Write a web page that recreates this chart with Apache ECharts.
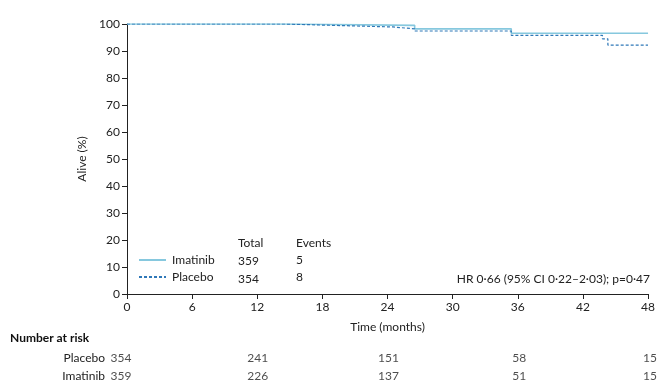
<!DOCTYPE html>
<html><head><meta charset="utf-8">
<script src="https://cdn.jsdelivr.net/npm/echarts@6/dist/echarts.min.js"></script>
<style>html,body{margin:0;padding:0;background:#fff}#c{width:658px;height:385px}</style>
</head><body><div id="c"></div>
<script>
const FONT = "Lato, 'Noto Sans', sans-serif";
const xTicks = [0, 6, 12, 18, 24, 30, 36, 42, 48];
const imatinibCurve = [[0,100],[14.5,99.5],[26.5,98.2],[35.4,96.6],[48,96.6]];
const placeboCurve = [[0,100],[14.5,99.5],[19,98.9],[24.5,98.2],[26.5,97.4],[35.4,95.8],[43.8,94.5],[44.3,92.2],[48,92.2]];
const groups = ['Imatinib', 'Placebo'];
const totals = [359, 354];
const events = [5, 8];
const riskTimes = [0, 12, 24, 36, 48];
const riskPlacebo = [354, 241, 151, 58, 15];
const riskImatinib = [359, 226, 137, 51, 15];
const hrText = 'HR 0·66 (95% CI 0·22–2·03); p=0·47';

const col = {imatinib:'#86c8de', placebo:'#2f78b8', axis:'#222', text:'#222'};
const chart = echarts.init(document.getElementById('c'));
const riskSeries = (name, vals) => ({
  type:'scatter', xAxisIndex:1, yAxisIndex:1, symbolSize:0, silent:true,
  data: vals.map((v,i)=>({value:[riskTimes[i], name, v], label: i===0 ? {offset:[-6,0]} : undefined})),
  label:{show:true, position:'inside', formatter:p=>p.value[2], color:col.text, fontFamily:FONT, fontSize:12}
});
chart.setOption({
  animation:false,
  textStyle:{fontFamily:FONT},
  grid:[{left:127, right:8, top:24, bottom:91},
        {left:127, right:8, top:349, height:36}],
  xAxis:[{type:'value', min:0, max:48, interval:6, gridIndex:0,
    name:'Time (months)', nameLocation:'middle', nameGap:27,
    nameTextStyle:{color:col.text, fontSize:12, fontFamily:FONT},
    axisLine:{lineStyle:{color:col.axis, width:1}},
    axisTick:{length:5, lineStyle:{color:col.axis}},
    axisLabel:{color:col.text, fontSize:12, margin:7, fontFamily:FONT},
    splitLine:{show:false}},
    {type:'value', min:0, max:48, gridIndex:1, show:false}],
  yAxis:[{type:'value', min:0, max:100, interval:10, gridIndex:0,
    name:'Alive (%)', nameLocation:'middle', nameGap:31, nameRotate:90,
    nameTextStyle:{color:col.text, fontSize:12, fontFamily:FONT},
    axisLine:{show:true, lineStyle:{color:col.axis, width:1}},
    axisTick:{show:true, length:5, lineStyle:{color:col.axis}},
    axisLabel:{color:col.text, fontSize:12, margin:7, fontFamily:FONT},
    splitLine:{show:false}},
    {type:'category', gridIndex:1, data:['Placebo','Imatinib'], inverse:true,
     axisLine:{show:false}, axisTick:{show:false}, splitLine:{show:false},
     axisLabel:{color:col.text, fontSize:12, margin:22, fontFamily:FONT}}],
  legend:{left:138, top:254, orient:'vertical', itemGap:5, itemWidth:27, itemHeight:14,
    padding:0,
    itemStyle:{opacity:0},
    textStyle:{color:col.text, fontSize:12, fontFamily:FONT, padding:[0,0,0,1]}, data:groups},
  series:[
    {name:'Imatinib', type:'line', step:'end', showSymbol:false, symbol:'none', data:imatinibCurve,
     lineStyle:{color:col.imatinib, width:1.6}, itemStyle:{color:col.imatinib}},
    {name:'Placebo', type:'line', step:'end', showSymbol:false, symbol:'none', data:placeboCurve,
     lineStyle:{color:col.placebo, width:1.2, type:[3,2]}, itemStyle:{color:col.placebo}},
    riskSeries('Placebo', riskPlacebo),
    riskSeries('Imatinib', riskImatinib)
  ],
  graphic:[
    {type:'text', left:238, top:237, style:{text:'Total', fill:col.text, font:'12px '+FONT}},
    {type:'text', left:296, top:237, style:{text:'Events', fill:col.text, font:'12px '+FONT}},
    {type:'text', left:238, top:255, style:{text:String(totals[0]), fill:col.text, font:'12px '+FONT}},
    {type:'text', left:238, top:273, style:{text:String(totals[1]), fill:col.text, font:'12px '+FONT}},
    {type:'text', left:296, top:254, style:{text:String(events[0]), fill:col.text, font:'12px '+FONT}},
    {type:'text', left:296, top:271, style:{text:String(events[1]), fill:col.text, font:'12px '+FONT}},
    {type:'text', right:8, top:273, style:{text:hrText, fill:col.text, font:'12px '+FONT}},
    {type:'text', left:10, top:332, style:{text:'Number at risk', fill:'#111', font:'bold 12px '+FONT}}
  ]
});
</script></body></html>
